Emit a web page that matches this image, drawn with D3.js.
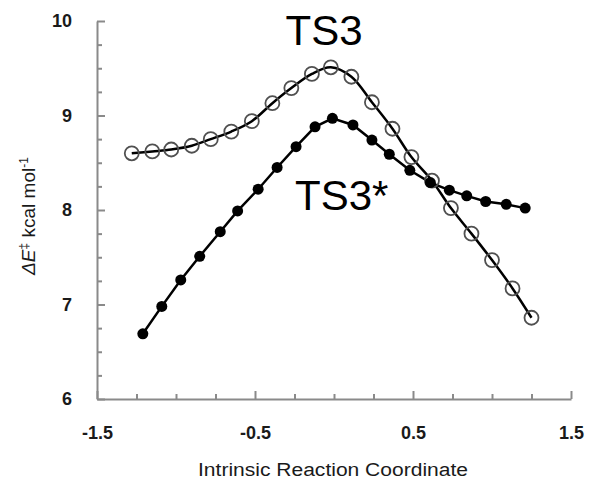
<!DOCTYPE html>
<html>
<head>
<meta charset="utf-8">
<script src="https://cdn.jsdelivr.net/npm/d3@7"></script>
<style>
  body { margin: 0; background: #fff; }
  svg { display: block; }
</style>
</head>
<body>
<svg id="viz" width="600" height="493"></svg>
<script>
// data

var ts3X = [-1.28, -1.15, -1.03, -0.90, -0.78, -0.65, -0.52, -0.39, -0.27, -0.14, -0.02,
            0.11, 0.24, 0.37, 0.49, 0.62, 0.74, 0.87, 1.00, 1.13, 1.25];
var ts3Y = [8.60, 8.62, 8.64, 8.68, 8.75, 8.83, 8.94, 9.13, 9.29, 9.44, 9.51,
            9.41, 9.14, 8.86, 8.56, 8.31, 8.02, 7.75, 7.47, 7.17, 6.86];

var ts3sX = [-1.21, -1.09, -0.97, -0.85, -0.72, -0.61, -0.48, -0.36, -0.24, -0.12, -0.01,
             0.12, 0.24, 0.35, 0.48, 0.61, 0.73, 0.84, 0.96, 1.09, 1.21];
var ts3sY = [6.69, 6.98, 7.26, 7.51, 7.77, 7.99, 8.22, 8.45, 8.67, 8.88, 8.97,
             8.90, 8.74, 8.59, 8.42, 8.29, 8.21, 8.15, 8.09, 8.06, 8.02];

var xMajor = [-1.5, -0.5, 0.5, 1.5];
var xMinor = [-1.25, -1, -0.75, -0.25, 0, 0.25, 0.75, 1, 1.25];
var yMajor = [6, 7, 8, 9, 10];
var yMinor = [6.25, 6.5, 6.75, 7.25, 7.5, 7.75, 8.25, 8.5, 8.75, 9.25, 9.5, 9.75];

var ts3 = ts3X.map((x, i) => ({x: x, y: ts3Y[i]}));
var ts3s = ts3sX.map((x, i) => ({x: x, y: ts3sY[i]}));

// canvas

var svg = d3.select("#viz"),
	plotLeft = 97, plotRight = 571, plotTop = 21, plotBottom = 399;

var x = d3.scaleLinear().domain([-1.5, 1.5]).range([plotLeft, plotRight]);
var y = d3.scaleLinear().domain([6, 10]).range([plotBottom, plotTop]);

var axisColour = "#8a8a8a";
var font = "'Liberation Sans', Arial, sans-serif";

// axes: minor ticks first, then major ticks with labels

svg.append("g")
	.attr("transform", "translate(0," + plotBottom + ")")
	.call(d3.axisBottom(x).tickValues(xMinor).tickSize(-5).tickFormat(""))
	.call(g => g.select(".domain").remove());

svg.append("g")
	.attr("transform", "translate(0," + plotBottom + ")")
	.call(d3.axisBottom(x).tickValues(xMajor).tickSize(-8).tickSizeOuter(0).tickPadding(27)
		.tickFormat(d => d.toFixed(1)))
	.call(g => g.selectAll("text").style("font-weight", "bold").style("font-size", "18px")
		.attr("fill", "#1a1a1a").style("font-family", font));

svg.append("g")
	.attr("transform", "translate(" + plotLeft + ",0)")
	.call(d3.axisLeft(y).tickValues(yMinor).tickSize(-5).tickFormat(""))
	.call(g => g.select(".domain").remove());

svg.append("g")
	.attr("transform", "translate(" + plotLeft + ",0)")
	.call(d3.axisLeft(y).tickValues(yMajor).tickSize(-8).tickSizeOuter(0).tickPadding(25)
		.tickFormat(d => String(d)))
	.call(g => g.selectAll("text").style("font-weight", "bold").style("font-size", "18px")
		.attr("fill", "#1a1a1a").style("font-family", font));

svg.selectAll(".domain, .tick line")
	.attr("stroke", axisColour)
	.attr("stroke-width", 2);

// axis titles

svg.append("text")
	.attr("x", 333)
	.attr("y", 476)
	.attr("text-anchor", "middle")
	.attr("textLength", 270)
	.attr("lengthAdjust", "spacingAndGlyphs")
	.style("font-family", font)
	.style("font-size", "18px")
	.attr("fill", "#1a1a1a")
	.text("Intrinsic Reaction Coordinate");

var yTitle = svg.append("text")
	.attr("transform", "translate(35,216) rotate(-90)")
	.attr("text-anchor", "middle")
	.style("font-family", font)
	.style("font-size", "19px")
	.attr("fill", "#1a1a1a");
yTitle.append("tspan").style("font-style", "italic").text("ΔE");
yTitle.append("tspan").attr("baseline-shift", "super").style("font-size", "12px").text("‡");
yTitle.append("tspan").text(" kcal mol");
yTitle.append("tspan").attr("baseline-shift", "super").style("font-size", "12px").text("-1");

// lines

var smooth = d3.line().x(d => x(d.x)).y(d => y(d.y)).curve(d3.curveCatmullRom.alpha(0.5));
var straight = d3.line().x(d => x(d.x)).y(d => y(d.y));

svg.append("path")
	.datum(ts3)
	.attr("d", smooth)
	.attr("fill", "none")
	.attr("stroke", "black")
	.attr("stroke-width", 2.5);

svg.append("path")
	.datum(ts3s)
	.attr("d", straight)
	.attr("fill", "none")
	.attr("stroke", "black")
	.attr("stroke-width", 2.5);

// markers

svg.append("g")
	.selectAll("circle")
	.data(ts3)
	.enter()
	.append("circle")
	.attr("cx", d => x(d.x))
	.attr("cy", d => y(d.y))
	.attr("r", 7)
	.attr("fill", "none")
	.attr("stroke", "#505050")
	.attr("stroke-width", 1.8);

svg.append("g")
	.selectAll("circle")
	.data(ts3s)
	.enter()
	.append("circle")
	.attr("cx", d => x(d.x))
	.attr("cy", d => y(d.y))
	.attr("r", 5.5)
	.attr("fill", "black");

// series labels

svg.append("text")
	.attr("x", 324)
	.attr("y", 45)
	.attr("text-anchor", "middle")
	.style("font-family", font)
	.style("font-size", "42px")
	.attr("fill", "black")
	.text("TS3");

svg.append("text")
	.attr("x", 295)
	.attr("y", 210)
	.style("font-family", font)
	.style("font-size", "42px")
	.attr("fill", "black")
	.text("TS3*");
</script>
</body>
</html>
